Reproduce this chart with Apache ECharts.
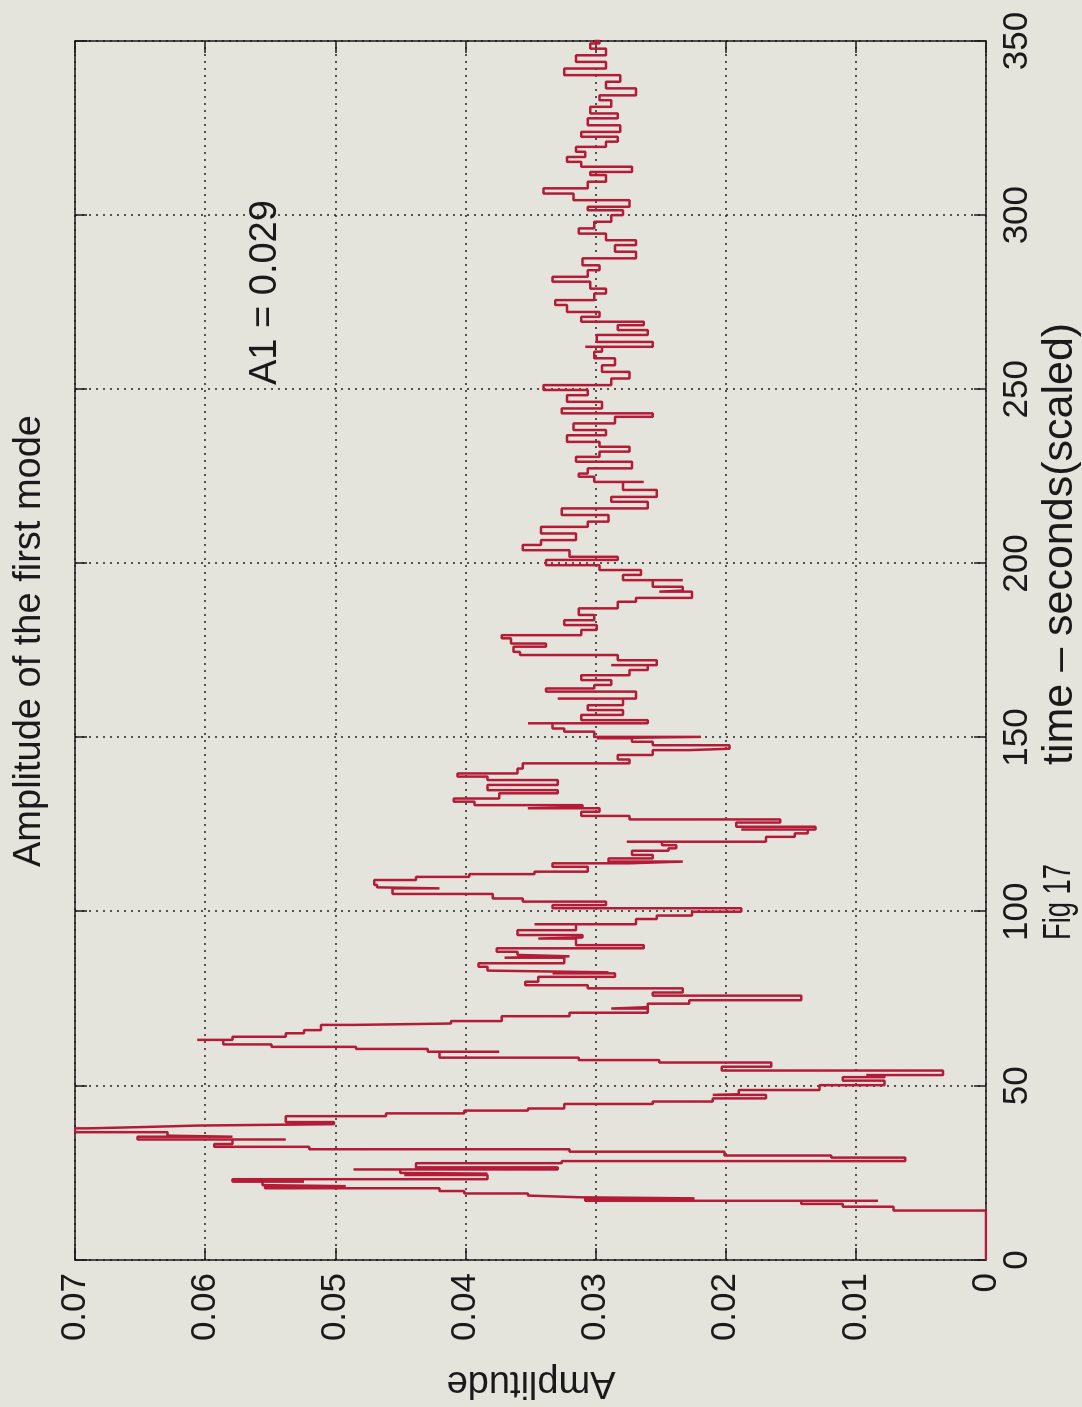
<!DOCTYPE html>
<html>
<head>
<meta charset="utf-8">
<script src="https://cdn.jsdelivr.net/npm/echarts@6/dist/echarts.min.js"></script>
<style>
  html, body { margin: 0; padding: 0; background: #e4e4dd; overflow: hidden; }
  /* the chart is drawn upright and turned a quarter turn, like the scanned page */
  #main {
    position: absolute; left: 0; top: 0;
    width: 1407px; height: 1082px;
    transform-origin: 0 0;
    transform: translate(0, 1407px) rotate(-90deg);
  }
</style>
</head>
<body>
<div id="main"></div>
<script>
// time axis (seconds, scaled)
var timeTicks = [0, 50, 100, 150, 200, 250, 300, 350];
// amplitude axis
var ampTicks = [0, 0.01, 0.02, 0.03, 0.04, 0.05, 0.06, 0.07];

// samples: time and amplitude of the first mode
var timeSec = [
  0, 13.5, 14.2, 14.2, 15.3, 15.3, 16.1, 17.0, 17.0, 17.7, 18.0, 18.5, 19.1, 19.8, 20.6, 21.2, 21.5, 22.5, 22.5, 23.2,
  24.4, 24.8, 25.0, 26.0, 26.0, 26.6, 27.8, 28.4, 29.4, 30.0, 30.0, 31.1, 31.8, 32.5, 33.3, 34.6, 34.6, 35.4, 35.7, 36.7,
  36.7, 37.8, 38.2, 38.6, 39.0, 39.6, 41.3, 42.1, 42.9, 43.5, 44.8, 45.5, 46.4, 47.4, 47.6, 48.8, 50.2, 51.5, 52.5, 53.1,
  53.1, 54.4, 54.4, 55.5, 56.7, 56.7, 57.4, 58.1, 59.8, 59.8, 60.6, 61.2, 61.9, 63.2, 63.2, 64.1, 65.1, 66.0, 67.5, 67.9,
  68.6, 70.0, 71.0, 72.2, 72.6, 73.6, 74.6, 75.9, 75.9, 76.8, 78.0, 78.9, 79.9, 81.3, 82.3, 82.6, 83.1, 84.2, 85.2, 86.8,
  87.2, 87.6, 88.5, 89.5, 90.4, 92.3, 92.6, 93.3, 94.7, 96.4, 96.4, 97.9, 98.9, 100.0, 101.0, 101.0, 101.9, 102.9, 103.8, 105.1,
  106.7, 107.0, 107.7, 109.1, 110.0, 110.8, 111.5, 112.9, 113.9, 114.4, 114.4, 115.3, 116.3, 117.5, 118.2, 119.1, 120.1, 120.1, 121.5, 122.5,
  123.6, 123.6, 124.4, 125.6, 126.5, 127.5, 128.7, 129.7, 130.0, 130.6, 131.6, 132.5, 134.0, 134.9, 136.4, 137.8, 138.8, 139.7, 141.1, 142.6,
  143.7, 145.0, 146.4, 146.8, 147.8, 148.8, 149.8, 150.2, 150.2, 151.7, 152.6, 154.1, 154.1, 155.0, 156.5, 157.9, 159.3, 161.2, 161.2, 163.2,
  164.1, 165.1, 166.5, 167.9, 169.4, 170.8, 170.8, 172.2, 173.7, 174.6, 176.1, 177.0, 178.5, 179.4, 180.9, 182.3, 183.7, 185.2, 187.1, 189.0,
  190.1, 191.9, 192.2, 193.3, 195.2, 195.2, 196.7, 198.1, 199.5, 201.0, 201.9, 203.8, 205.3, 206.7, 208.6, 210.5, 212.0, 213.9, 215.8, 217.7,
  219.1, 221.1, 223.4, 223.4, 224.9, 225.8, 227.3, 229.2, 230.6, 232.1, 233.5, 234.9, 236.8, 238.3, 240.2, 242.1, 243.1, 244.5, 246.4, 248.3,
  249.8, 251.2, 253.1, 255.0, 256.9, 258.9, 260.8, 262.2, 262.2, 263.6, 265.6, 267.0, 268.4, 269.4, 270.8, 272.2, 274.2, 275.6, 277.5, 278.9,
  280.9, 282.3, 284.2, 285.6, 287.6, 289.5, 291.4, 292.8, 294.7, 296.2, 298.1, 300.0, 301.4, 302.4, 304.3, 306.2, 307.7, 309.6, 311.5, 312.4,
  313.9, 315.3, 316.7, 318.2, 319.6, 321.1, 322.5, 323.9, 325.8, 327.8, 329.2, 331.1, 333.0, 334.4, 336.4, 338.3, 340.2, 342.1, 344.0, 345.9,
  347.8, 349.3, 350.0
];
var amplitude = [
  0, 0, 0.0005, 0.0071, 0.0083, 0.0110, 0.0142, 0.0083, 0.0308, 0.0224, 0.0311, 0.0352, 0.0401, 0.0420, 0.0554, 0.0492, 0.0556, 0.0524, 0.0579, 0.0383,
  0.0447, 0.0383, 0.0450, 0.0486, 0.0329, 0.0438, 0.0326, 0.0062, 0.0119, 0.0156, 0.0201, 0.0320, 0.0520, 0.0593, 0.0579, 0.0538, 0.0652, 0.0579, 0.0629, 0.0647,
  0.0700, 0.0690, 0.0645, 0.0606, 0.0501, 0.0538, 0.0461, 0.0401, 0.0352, 0.0324, 0.0256, 0.0210, 0.0169, 0.0210, 0.0190, 0.0128, 0.0078, 0.0110, 0.0078, 0.0092,
  0.0033, 0.0099, 0.0203, 0.0165, 0.0174, 0.0251, 0.0313, 0.0420, 0.0374, 0.0429, 0.0484, 0.0549, 0.0586, 0.0606, 0.0579, 0.0538, 0.0524, 0.0511, 0.0486, 0.0411,
  0.0372, 0.0320, 0.0260, 0.0288, 0.0260, 0.0228, 0.0142, 0.0174, 0.0256, 0.0233, 0.0306, 0.0354, 0.0344, 0.0285, 0.0333, 0.0290, 0.0383, 0.0390, 0.0324, 0.0370,
  0.0320, 0.0360, 0.0376, 0.0263, 0.0315, 0.0344, 0.0310, 0.0360, 0.0315, 0.0347, 0.0269, 0.0253, 0.0226, 0.0188, 0.0206, 0.0333, 0.0292, 0.0356, 0.0379, 0.0456,
  0.0420, 0.0468, 0.0470, 0.0438, 0.0397, 0.0347, 0.0306, 0.0333, 0.0274, 0.0233, 0.0290, 0.0256, 0.0272, 0.0244, 0.0238, 0.0249, 0.0276, 0.0169, 0.0147, 0.0137,
  0.0188, 0.0131, 0.0192, 0.0158, 0.0274, 0.0311, 0.0297, 0.0352, 0.0310, 0.0393, 0.0409, 0.0374, 0.0329, 0.0383, 0.0329, 0.0383, 0.0406, 0.0360, 0.0356, 0.0274,
  0.0283, 0.0256, 0.0228, 0.0197, 0.0256, 0.0272, 0.0299, 0.0219, 0.0301, 0.0324, 0.0333, 0.0352, 0.0260, 0.0311, 0.0279, 0.0306, 0.0279, 0.0329, 0.0269, 0.0338,
  0.0301, 0.0288, 0.0311, 0.0274, 0.0260, 0.0288, 0.0253, 0.0283, 0.0358, 0.0363, 0.0338, 0.0365, 0.0372, 0.0311, 0.0299, 0.0324, 0.0301, 0.0313, 0.0283, 0.0269,
  0.0226, 0.0251, 0.0233, 0.0256, 0.0233, 0.0279, 0.0265, 0.0297, 0.0338, 0.0283, 0.0320, 0.0356, 0.0342, 0.0315, 0.0342, 0.0306, 0.0290, 0.0326, 0.0260, 0.0288,
  0.0253, 0.0279, 0.0263, 0.0301, 0.0313, 0.0306, 0.0272, 0.0315, 0.0297, 0.0274, 0.0297, 0.0322, 0.0292, 0.0317, 0.0285, 0.0256, 0.0326, 0.0295, 0.0322, 0.0306,
  0.0340, 0.0288, 0.0274, 0.0295, 0.0285, 0.0301, 0.0295, 0.0308, 0.0256, 0.0299, 0.0260, 0.0283, 0.0263, 0.0311, 0.0297, 0.0322, 0.0331, 0.0301, 0.0292, 0.0304,
  0.0333, 0.0306, 0.0297, 0.0310, 0.0269, 0.0285, 0.0269, 0.0292, 0.0313, 0.0301, 0.0288, 0.0279, 0.0306, 0.0274, 0.0317, 0.0340, 0.0306, 0.0292, 0.0304, 0.0272,
  0.0311, 0.0322, 0.0308, 0.0315, 0.0292, 0.0283, 0.0311, 0.0281, 0.0306, 0.0283, 0.0304, 0.0288, 0.0297, 0.0269, 0.0292, 0.0281, 0.0324, 0.0292, 0.0315, 0.0292,
  0.0304, 0.0297, 0.0301
];

var FONT = '"Liberation Sans", Arial, Helvetica, sans-serif';
var INK = '#1a1a1a';

var myChart = echarts.init(document.getElementById('main'));

// pair up the samples for the value/value line
var traceData = [];
for (var i = 0; i < timeSec.length; i++) {
    traceData.push([timeSec[i], amplitude[i]]);
}

function ampLabel(v) {
    return v === 0 ? '0' : v.toFixed(2);
}

var gridDots = { show: true, lineStyle: { color: '#222', width: 1.5, type: [2, 5] } };
// box round the plot: every axis line stays on its own edge
var boxLine = { show: true, onZero: false, lineStyle: { color: INK, width: 1.5 } };
var tickIn = { show: true, inside: true, length: 12, lineStyle: { color: INK, width: 1.5 } };

var option = {
    backgroundColor: '#e4e4dd',
    animation: false,
    grid: { left: 147, right: 41, top: 75, bottom: 96, show: false },
    xAxis: [
        {
            type: 'value',
            min: timeTicks[0],
            max: timeTicks[timeTicks.length - 1],
            interval: 50,
            position: 'bottom',
            axisLine: boxLine,
            axisTick: tickIn,
            splitLine: gridDots,
            axisLabel: { fontFamily: FONT, fontSize: 35, color: INK, margin: 14 }
        },
        {
            type: 'value',
            min: timeTicks[0],
            max: timeTicks[timeTicks.length - 1],
            interval: 50,
            position: 'top',
            axisLine: boxLine,
            axisTick: tickIn,
            splitLine: { show: false },
            axisLabel: { show: false }
        }
    ],
    yAxis: [
        {
            type: 'value',
            min: ampTicks[0],
            max: ampTicks[ampTicks.length - 1],
            interval: 0.01,
            position: 'left',
            axisLine: boxLine,
            axisTick: tickIn,
            splitLine: gridDots,
            axisLabel: { fontFamily: FONT, fontSize: 35, color: INK, margin: 13, formatter: ampLabel }
        },
        {
            type: 'value',
            min: ampTicks[0],
            max: ampTicks[ampTicks.length - 1],
            interval: 0.01,
            position: 'right',
            axisLine: boxLine,
            axisTick: tickIn,
            splitLine: { show: false },
            axisLabel: { show: false }
        }
    ],
    series: [
        {
            name: 'A1',
            type: 'line',
            xAxisIndex: 0,
            yAxisIndex: 0,
            step: 'end',
            showSymbol: false,
            data: traceData,
            lineStyle: { color: '#b31b36', width: 2.5 }
        }
    ],
    graphic: [
        {
            type: 'text', x: 766, y: 30,
            style: { text: 'Amplitude of the first mode', font: '38px ' + FONT, fill: INK,
                     textAlign: 'center', textVerticalAlign: 'middle' }
        },
        {
            type: 'text', x: 25, y: 531, rotation: Math.PI / 2,
            style: { text: 'Amplitude', font: '38px ' + FONT, fill: INK,
                     textAlign: 'center', textVerticalAlign: 'middle' }
        },
        {
            type: 'text', x: 642, y: 1060,
            style: { text: 'time – seconds(scaled)', font: '43px ' + FONT, fill: INK,
                     textAlign: 'left', textVerticalAlign: 'middle' }
        },
        {
            // narrow lettering, as in the scan
            type: 'text', x: 505, y: 1060, scaleX: 0.72,
            style: { text: 'Fig 17', font: '38px ' + FONT, fill: INK,
                     textAlign: 'center', textVerticalAlign: 'middle' }
        },
        {
            type: 'text', x: 1022, y: 266,
            style: { text: 'A1 = 0.029', font: '38px ' + FONT, fill: INK,
                     textAlign: 'left', textVerticalAlign: 'middle' }
        }
    ]
};

myChart.setOption(option);
</script>
</body>
</html>
